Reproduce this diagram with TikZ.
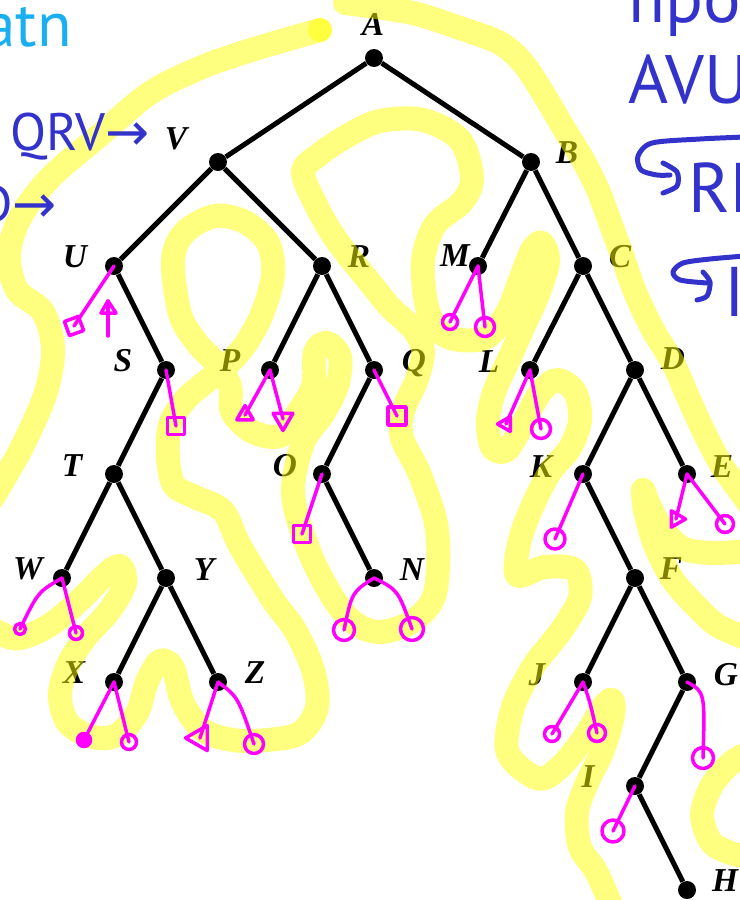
\documentclass[tikz,border=0pt]{standalone}
\usepackage{fontspec}
\setmainfont{Liberation Serif}
\newfontfamily\handfont{PT Sans}
\newfontfamily\arrowfont{DejaVu Sans}
\usetikzlibrary{shapes.geometric}

\definecolor{marker}{RGB}{255,255,0}
\definecolor{nilpink}{RGB}{255,0,255}
\definecolor{penblue}{RGB}{51,51,204}
\definecolor{pencyan}{RGB}{25,175,240}

\begin{document}
\begin{tikzpicture}[x=0.02cm, y=-0.02cm,
        main/.style = {circle, fill=black, minimum size=3.6mm, inner sep=0pt},
        lbl/.style = {inner sep=0pt, font=\fontsize{19}{19}\selectfont\bfseries\itshape},
        branch/.style = {line width=1mm},
        hl/.style = {draw=marker, opacity=.5, line width=4.8mm, line cap=round, line join=round},
        nul/.style = {draw=nilpink, line width=.7mm, line cap=round, line join=round},
        nbox/.style = {nul, rectangle, minimum size=#1, inner sep=0pt},
        nring/.style = {nul, circle, minimum size=#1, inner sep=0pt},
        ntri/.style = {nul, regular polygon, regular polygon sides=3, minimum size=#1, inner sep=0pt},
        handtext/.style = {text=penblue, inner sep=0pt, font=\handfont\fontsize{#1}{#1}\selectfont},
        handline/.style = {draw=penblue, line width=1mm, line cap=round, line join=round}]

        \useasboundingbox (0,0) rectangle (740,900);
        \clip (0,0) rectangle (740,900);

        % letters (under the highlighter)
        \node[lbl] (lA) at (373,24) {A};
        \node[lbl] (lV) at (176,139) {V};
        \node[lbl] (lB) at (567,153) {B};
        \node[lbl] (lU) at (75,257) {U};
        \node[lbl] (lR) at (359,257) {R};
        \node[lbl] (lM) at (455,256) {M};
        \node[lbl] (lC) at (620,257) {C};
        \node[lbl] (lS) at (123,361) {S};
        \node[lbl] (lP) at (230,361) {P};
        \node[lbl] (lQ) at (414,363) {Q};
        \node[lbl] (lL) at (489,362) {L};
        \node[lbl] (lD) at (673,359) {D};
        \node[lbl] (lT) at (72,466) {T};
        \node[lbl] (lO) at (285,466) {O};
        \node[lbl] (lK) at (541,467) {K};
        \node[lbl] (lE) at (722,467) {E};
        \node[lbl] (lW) at (28,569) {W};
        \node[lbl] (lY) at (204,570) {Y};
        \node[lbl] (lN) at (412,570) {N};
        \node[lbl] (lF) at (671,569) {F};
        \node[lbl] (lX) at (74,673) {X};
        \node[lbl] (lZ) at (255,673) {Z};
        \node[lbl] (lJ) at (537,675) {J};
        \node[lbl] (lG) at (726,675) {G};
        \node[lbl] (lI) at (588,777) {I};
        \node[lbl] (lH) at (725,881) {H};

        % highlighter tour
        \draw[hl] plot[smooth, tension=.55] coordinates {(320,30) (285,40) (245,52) (200,68) (150,93) (100,135) (50,178) (20,218) (9,255) (17,290) (43,312) (53,350) (45,395) (22,447) (0,486) (-30,540) (-30,610) (0,633) (20,638) (50,625) (80,600) (105,575) (120,566) (125,583) (110,610) (85,638) (68,665) (60,695) (68,723) (93,737) (117,735) (137,713) (147,682) (160,661) (173,668) (183,703) (203,730) (233,740) (267,740) (300,733) (317,707) (313,670) (295,630) (273,600) (240,546) (223,511) (195,497) (174,485) (168,457) (170,425) (185,400) (207,381) (227,365) (245,345) (262,314) (273,275) (268,243) (245,222) (215,216) (185,232) (173,260) (180,314) (197,343) (215,362) (230,386) (232,412) (253,432) (280,436) (297,414) (313,386) (315,352) (327,343) (340,357) (337,386) (323,414) (303,443) (293,493) (307,546) (330,593) (353,622) (380,632) (413,621) (435,593) (437,530) (420,475) (402,438) (403,411) (417,379) (423,350) (413,329) (390,307) (372,285) (350,258) (333,235) (317,207) (303,172) (320,154) (347,136) (380,121) (423,120) (460,140) (472,178) (462,202) (435,225) (423,261) (427,307) (440,332) (460,340) (487,337) (507,313) (520,280) (532,250) (542,243) (548,262) (537,297) (522,330) (510,357) (495,390) (488,420) (492,447) (507,450) (525,420) (540,393) (557,380) (575,392) (580,420) (570,448) (550,472) (533,505) (520,540) (517,575) (545,567) (575,570) (580,597) (565,625) (550,645) (533,667) (513,707) (507,750) (527,773) (545,778) (567,760) (587,733) (603,707) (612,700) (613,715) (603,750) (587,783) (577,813) (580,847) (597,873) (615,915)};
        \fill[marker, opacity=.5] (320,30) circle (12);
        \draw[hl] plot[smooth] coordinates {(345,3) (383,8) (417,14) (457,27) (500,43) (523,63) (543,93) (563,127) (583,160) (598,190) (610,222) (622,255) (635,292) (653,330) (673,363) (688,397) (704,432) (722,466) (750,505)};
        \draw[hl] plot[smooth] coordinates {(765,550) (715,553) (682,548) (660,525) (647,500) (643,490) (645,510) (655,545) (673,580) (697,607) (720,627) (765,645)};
        \draw[hl] plot[smooth] coordinates {(765,748) (735,760) (712,785) (702,815) (712,843) (738,855) (765,855)};

        % tree
        \node[main] (A) at (374,58) {};
        \node[main] (V) at (218,162) {};
        \node[main] (B) at (531,162) {};
        \node[main] (U) at (114,266) {};
        \node[main] (R) at (322,266) {};
        \node[main] (M) at (478,266) {};
        \node[main] (C) at (583,266) {};
        \node[main] (S) at (166,370) {};
        \node[main] (P) at (270,370) {};
        \node[main] (Q) at (374,370) {};
        \node[main] (L) at (530,370) {};
        \node[main] (D) at (635,370) {};
        \node[main] (T) at (114,474) {};
        \node[main] (O) at (322,474) {};
        \node[main] (K) at (583,474) {};
        \node[main] (E) at (687,474) {};
        \node[main] (W) at (62,578) {};
        \node[main] (Y) at (166,578) {};
        \node[main] (N) at (374,578) {};
        \node[main] (F) at (635,578) {};
        \node[main] (X) at (114,682) {};
        \node[main] (Z) at (218,682) {};
        \node[main] (J) at (583,682) {};
        \node[main] (G) at (687,682) {};
        \node[main] (I) at (635,786) {};
        \node[main] (H) at (687,890) {};

        \draw[branch] (A) -- (V);
        \draw[branch] (A) -- (B);
        \draw[branch] (V) -- (U);
        \draw[branch] (V) -- (R);
        \draw[branch] (U) -- (S);
        \draw[branch] (S) -- (T);
        \draw[branch] (T) -- (W);
        \draw[branch] (T) -- (Y);
        \draw[branch] (Y) -- (X);
        \draw[branch] (Y) -- (Z);
        \draw[branch] (R) -- (P);
        \draw[branch] (R) -- (Q);
        \draw[branch] (Q) -- (O);
        \draw[branch] (O) -- (N);
        \draw[branch] (B) -- (M);
        \draw[branch] (B) -- (C);
        \draw[branch] (C) -- (L);
        \draw[branch] (C) -- (D);
        \draw[branch] (D) -- (K);
        \draw[branch] (D) -- (E);
        \draw[branch] (K) -- (F);
        \draw[branch] (F) -- (J);
        \draw[branch] (F) -- (G);
        \draw[branch] (G) -- (I);
        \draw[branch] (I) -- (H);

        % null links
        \draw[nul] (U.center) -- (74,326) node[nbox=3mm, rotate=20] {};
        \draw[nul] (108,336) -- (108,301);
        \draw[nul] (101,313) -- (108,301) -- (116,313) -- cycle;
        \draw[nul] (S.center) -- (176,426) node[nbox=3.4mm] {};
        \draw[nul] (P.center) -- (245,415) node[ntri=3.8mm] {};
        \draw[nul] (P.center) -- (283,419) node[ntri=4.6mm, shape border rotate=180] {};
        \draw[nul] (Q.center) -- (397,416) node[nbox=3.6mm] {};
        \draw[nul] (O.center) -- (302,534) node[nbox=3.4mm] {};
        \draw[nul] (N.center) .. controls (352,592) .. (344,630) node[nring=4.2mm] {};
        \draw[nul] (N.center) .. controls (398,590) .. (412,629) node[nring=4.6mm] {};
        \draw[nul] (M.center) -- (450,322) node[nring=3mm] {};
        \draw[nul] (M.center) -- (485,327) node[nring=3.8mm] {};
        \draw[nul] (L.center) -- (506,424) node[ntri=3.4mm, shape border rotate=90] {};
        \draw[nul] (L.center) -- (541,429) node[nring=3.8mm] {};
        \draw[nul] (K.center) -- (555,539) node[nring=4mm] {};
        \draw[nul] (E.center) -- (676,519) node[ntri=3.8mm, shape border rotate=-90] {};
        \draw[nul] (E.center) -- (725,524) node[nring=3.4mm] {};
        \draw[nul] (W.center) .. controls (38,592) .. (20,629) node[nring=2.2mm] {};
        \draw[nul] (W.center) -- (76,633) node[nring=2.6mm] {};
        \draw[nul] (X.center) -- (84,740) node[nring=2.6mm, fill=nilpink] {};
        \draw[nul] (X.center) -- (129,742) node[nring=3mm] {};
        \draw[nul] (Z.center) -- (200,738) node[ntri=5.8mm, shape border rotate=90] {};
        \draw[nul] (Z.center) .. controls (238,697) .. (254,744) node[nring=3.8mm] {};
        \draw[nul] (J.center) -- (552,734) node[nring=3mm] {};
        \draw[nul] (J.center) .. controls (590,702) .. (597,733) node[nring=3.4mm] {};
        \draw[nul] (G.center) .. controls (705,692) .. (703,758) node[nring=4.2mm] {};
        \draw[nul] (I.center) -- (613,831) node[nring=4.4mm] {};

        % handwriting
        \node[handtext=40pt, anchor=base west] (topword) at (628,22) {проб};
        \node[handtext=39pt, anchor=base west] (stackA) at (628,103) {AVU};
        \draw[handline] plot[smooth] coordinates {(745,137) (700,139) (652,143) (638,156) (641,170) (657,175) (670,175)};
        \draw[handline] plot[smooth] coordinates {(663,163) (677,172) (677,186) (663,193)};
        \node[handtext=40pt, anchor=base west] (stackR) at (688,212) {RF};
        \draw[handline] plot[smooth] coordinates {(745,256) (710,259) (683,263) (673,272) (680,280) (707,283)};
        \draw[handline] plot[smooth] coordinates {(703,272) (710,282) (707,296) (697,300)};
        \node[handtext=40pt, anchor=base west] (stackI) at (724,316) {I};
        \node[handtext=30pt, anchor=base west] (queueQ) at (10,150) {QRV{\arrowfont →}};
        \node[handtext=30pt, anchor=base west] (queueD) at (-22,222) {D{\arrowfont →}};
        \node[handtext=36pt, anchor=base east, text=pencyan] (pathword) at (72,46) {atn};

\end{tikzpicture}
\end{document}
